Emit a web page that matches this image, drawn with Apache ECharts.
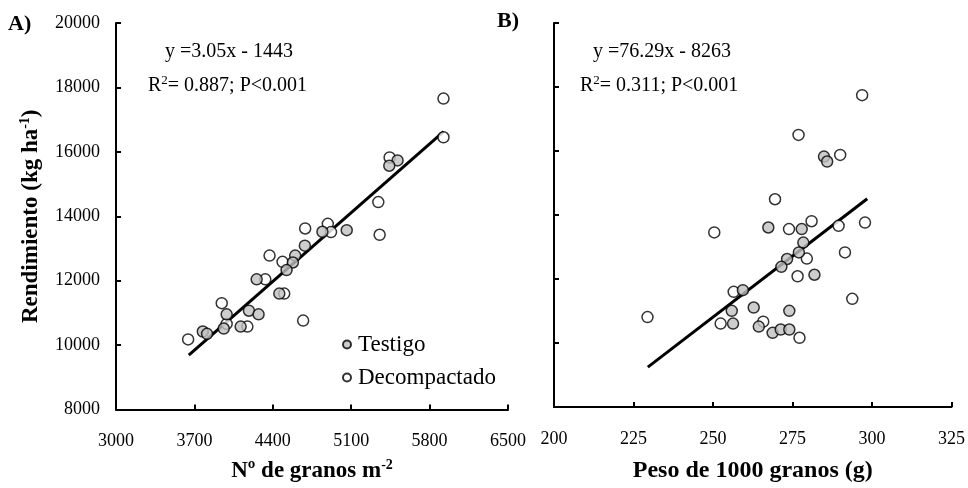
<!DOCTYPE html>
<html>
<head>
<meta charset="utf-8">
<script src="https://cdn.jsdelivr.net/npm/echarts@6/dist/echarts.min.js"></script>
<style>html,body{margin:0;padding:0;background:#fff;}#c{width:968px;height:488px;}</style>
</head>
<body>
<div id="c"></div>
<script>
// ---- Data ----
var seriesNames = ['Testigo', 'Decompactado'];
// Panel A: Nº de granos m-2 vs Rendimiento
var aTestigoX = [5514, 5440, 4843, 5060, 4686, 4600, 4579, 4523, 4256, 4458, 3988, 4187, 4273, 3962, 4113, 3775, 3813];
var aTestigoY = [15733, 15569, 13518, 13569, 13087, 12779, 12564, 12329, 12041, 11600, 10954, 11067, 10954, 10514, 10575, 10421, 10348];
var aDecompX = [5924, 5924, 5443, 5342, 5354, 4689, 4891, 4920, 4371, 4487, 4333, 4502, 3944, 3988, 4173, 3644, 4671];
var aDecompY = [17653, 16452, 15825, 14440, 13425, 13621, 13764, 13508, 12779, 12585, 12041, 11600, 11302, 10656, 10575, 10175, 10760];
// Panel B: Peso de 1000 granos vs Rendimiento
var bTestigoX = [284.9, 285.9, 267.4, 277.9, 278.4, 277.0, 273.3, 271.5, 259.4, 255.9, 256.3, 262.8, 264.4, 268.75, 271.3, 274.0, 274.0, 281.9];
var bTestigoY = [15825, 15671, 13609, 13560, 13138, 12831, 12625, 12379, 11652, 11006, 10606, 11108, 10514, 10318, 10421, 10421, 11006, 12133];
var bDecompX = [250.4, 296.9, 276.9, 290.0, 269.5, 273.9, 281.0, 289.5, 297.8, 279.5, 291.5, 229.4, 256.5, 252.4, 265.8, 276.6, 277.2, 293.8];
var bDecompY = [13456, 17745, 16502, 15877, 14492, 13560, 13806, 13662, 13764, 12637, 12831, 10810, 11600, 10606, 10667, 12085, 10163, 11380];
// Regressions: slope, intercept, x range of fitted line
var regA = {slope: 3.05, intercept: -1443, from: 3650, to: 5925};
var regB = {slope: 76.29, intercept: -8263, from: 229.5, to: 298.5};
var eqA = ['y =3.05x - 1443', '0.887; P<0.001'];
var eqB = ['y =76.29x - 8263', '0.311; P<0.001'];
// Axes
var xTicksA = [3000, 3700, 4400, 5100, 5800, 6500];
var xTicksB = [200, 225, 250, 275, 300, 325];
var yTicks = [8000, 10000, 12000, 14000, 16000, 18000, 20000];

function pairs(xs, ys){ return xs.map(function(x,i){ return [x, ys[i]]; }); }
function regLine(r){ return [[r.from, r.slope*r.from + r.intercept],[r.to, r.slope*r.to + r.intercept]]; }
function plain(v){ return String(v); }

var FONT = '"Liberation Serif", "Times New Roman", serif';
var black = '#000';
var axisLine = {show:true, onZero:false, lineStyle:{color:black, width:2}};
var axisTick = {show:true, inside:true, length:5, lineStyle:{color:black, width:2}};
var labelStyle = {color:black, fontFamily:FONT, fontSize:18, formatter:plain};
var grayStyle = {color:'#c0c0c0', borderColor:black, borderWidth:1.5};
var openStyle = {color:'#fff', borderColor:black, borderWidth:1.5};
var supRich = function(size){ return {
  b:{fontFamily:FONT, fontSize:size, fontWeight:'bold', color:black},
  s:{fontFamily:FONT, fontSize:Math.round(size*0.62), fontWeight:'bold', color:black, verticalAlign:'top', padding:[0,0,12,0]}}; };

var chart = echarts.init(document.getElementById('c'), null, {renderer:'canvas'});
var option = {
  animation:false,
  backgroundColor:'#fff',
  textStyle:{fontFamily:FONT},
  grid:[
    {left:116, top:23, width:392, height:390},
    {left:554, top:23, width:399, height:390}
  ],
  xAxis:[
    {gridIndex:0, type:'value', min:xTicksA[0], max:xTicksA[xTicksA.length-1],
     axisLine:axisLine,
     axisTick:Object.assign({}, axisTick, {customValues:xTicksA}),
     axisLabel:Object.assign({}, labelStyle, {margin:23, customValues:xTicksA}),
     splitLine:{show:false},
     name:'{b|Nº de granos m}{s|-2}', nameLocation:'middle', nameGap:49,
     nameTextStyle:{rich:supRich(23)}},
    {gridIndex:1, type:'value', min:xTicksB[0], max:xTicksB[xTicksB.length-1], interval:25,
     axisLine:axisLine, axisTick:axisTick,
     axisLabel:Object.assign({}, labelStyle, {margin:23}),
     splitLine:{show:false},
     name:'Peso de 1000 granos (g)', nameLocation:'middle', nameGap:52,
     nameTextStyle:{fontFamily:FONT, fontSize:24, fontWeight:'bold', color:black}}
  ],
  yAxis:[
    {gridIndex:0, type:'value', min:yTicks[0], max:yTicks[yTicks.length-1], interval:2000,
     axisLine:axisLine, axisTick:axisTick,
     axisLabel:Object.assign({}, labelStyle, {margin:16}),
     splitLine:{show:false},
     name:'{b|Rendimiento (kg ha}{s|-1}{b|)}', nameLocation:'middle', nameGap:72, nameRotate:90,
     nameTextStyle:{rich:supRich(23)}},
    {gridIndex:1, type:'value', min:yTicks[0], max:yTicks[yTicks.length-1], interval:2000,
     axisLine:axisLine, axisTick:axisTick,
     axisLabel:{show:false}, splitLine:{show:false}}
  ],
  legend:{
    data:seriesNames, orient:'vertical', left:337, top:328,
    itemWidth:8, itemHeight:8, itemGap:10, icon:'circle',
    textStyle:{fontFamily:FONT, fontSize:23, color:black, padding:[0,0,0,2]}
  },
  graphic:[
    {type:'text', left:8, top:13, style:{text:'A)', font:'bold 22px '+FONT, fill:black}},
    {type:'text', left:497, top:10, style:{text:'B)', font:'bold 22px '+FONT, fill:black}},
    {type:'text', left:165, top:42, style:{text:eqA[0], font:'20px '+FONT, fill:black}},
    {type:'text', left:148, top:74, style:{text:'{t|R}{s|2}{t|= '+eqA[1]+'}', rich:{t:{font:'20px '+FONT, fill:black}, s:{font:'13px '+FONT, fill:black, verticalAlign:'top', padding:[0,0,11,0]}}}},
    {type:'text', left:593, top:42, style:{text:eqB[0], font:'20px '+FONT, fill:black}},
    {type:'text', left:580, top:74, style:{text:'{t|R}{s|2}{t|= '+eqB[1]+'}', rich:{t:{font:'20px '+FONT, fill:black}, s:{font:'13px '+FONT, fill:black, verticalAlign:'top', padding:[0,0,11,0]}}}}
  ],
  series:[
    {name:'fitA', type:'line', xAxisIndex:0, yAxisIndex:0, data:regLine(regA), symbol:'none', lineStyle:{color:black, width:3}, z:1},
    {name:'Decompactado', type:'scatter', xAxisIndex:0, yAxisIndex:0, data:pairs(aDecompX, aDecompY), symbol:'circle', symbolSize:11, itemStyle:openStyle, z:3},
    {name:'Testigo', type:'scatter', xAxisIndex:0, yAxisIndex:0, data:pairs(aTestigoX, aTestigoY), symbol:'circle', symbolSize:11, itemStyle:grayStyle, z:3},
    {name:'fitB', type:'line', xAxisIndex:1, yAxisIndex:1, data:regLine(regB), symbol:'none', lineStyle:{color:black, width:3}, z:1},
    {name:'Decompactado', type:'scatter', xAxisIndex:1, yAxisIndex:1, data:pairs(bDecompX, bDecompY), symbol:'circle', symbolSize:11, itemStyle:openStyle, z:3},
    {name:'Testigo', type:'scatter', xAxisIndex:1, yAxisIndex:1, data:pairs(bTestigoX, bTestigoY), symbol:'circle', symbolSize:11, itemStyle:grayStyle, z:3}
  ]
};
chart.setOption(option);
</script>
</body>
</html>
